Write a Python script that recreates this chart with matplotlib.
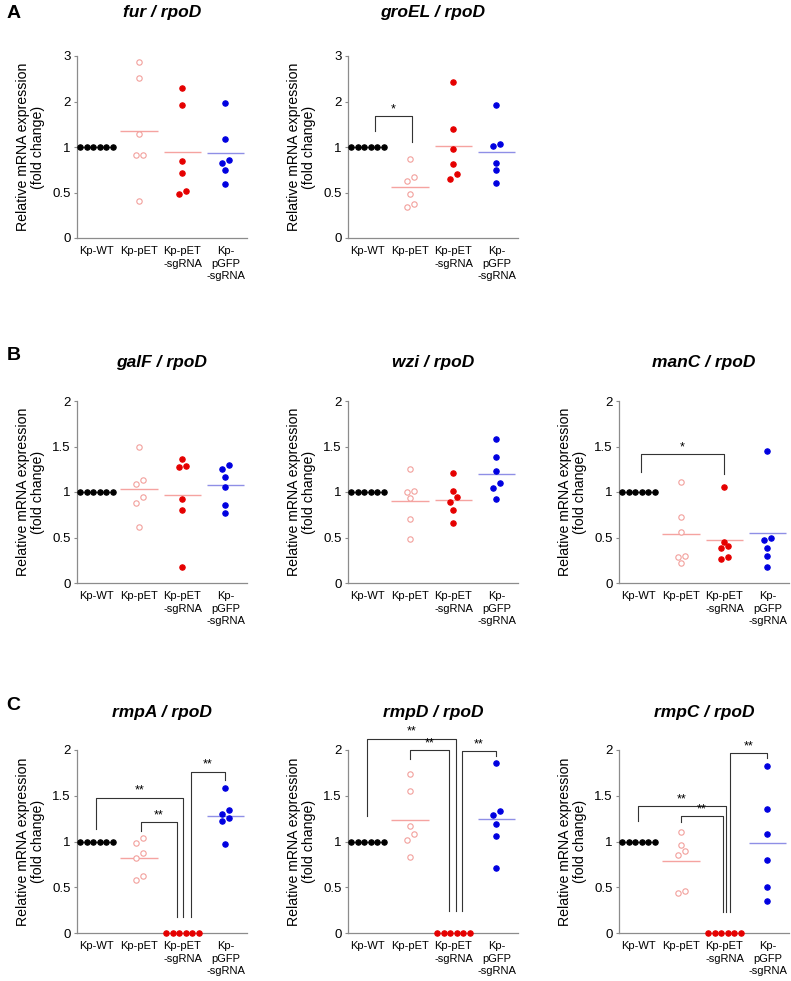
"""Relative mRNA expression dot plots (fold change vs rpoD), panels A-C."""

import matplotlib

matplotlib.use("Agg")
import matplotlib.pyplot as plt
import numpy as np

plt.rcParams["font.family"] = ["Liberation Sans", "DejaVu Sans"]

GROUPS = ["Kp-WT", "Kp-pET", "Kp-pET\n-sgRNA", "Kp-\npGFP\n-sgRNA"]

WT = [1, 1, 1, 1, 1, 1]
ZERO = [0, 0, 0, 0, 0, 0]

# A
fur_pet = [2.87, 2.52, 1.28, 0.91, 0.91, 0.41]
fur_sg = [2.30, 1.92, 0.85, 0.71, 0.52, 0.48]
fur_gfp = [1.96, 1.18, 0.855, 0.825, 0.75, 0.59]
fur_mean = [1, 1.35, 0.94, 0.93]

groel_pet = [0.865, 0.67, 0.625, 0.48, 0.375, 0.345]
groel_sg = [2.43, 1.40, 0.98, 0.815, 0.70, 0.65]
groel_gfp = [1.93, 1.07, 1.02, 0.825, 0.745, 0.60]
groel_mean = [1, 0.556, 1.03, 0.95]

# B
galf_pet = [1.50, 1.13, 1.09, 0.94, 0.88, 0.62]
galf_sg = [1.36, 1.29, 1.27, 0.92, 0.80, 0.18]
galf_gfp = [1.30, 1.25, 1.17, 1.055, 0.86, 0.77]
galf_mean = [1, 1.03, 0.97, 1.08]

wzi_pet = [1.25, 1.015, 1.0, 0.93, 0.70, 0.485]
wzi_sg = [1.21, 1.01, 0.94, 0.89, 0.80, 0.66]
wzi_gfp = [1.58, 1.38, 1.23, 1.095, 1.045, 0.92]
wzi_mean = [1, 0.90, 0.915, 1.20]

manc_pet = [1.11, 0.73, 0.56, 0.295, 0.29, 0.225]
manc_sg = [1.06, 0.45, 0.41, 0.38, 0.285, 0.265]
manc_gfp = [1.45, 0.50, 0.475, 0.38, 0.295, 0.18]
manc_mean = [1, 0.536, 0.478, 0.547]

# C
rmpa_pet = [1.04, 0.98, 0.875, 0.815, 0.62, 0.58]
rmpa_gfp = [1.58, 1.34, 1.305, 1.26, 1.22, 0.975]
rmpa_mean = [1, 0.82, 0, 1.28]

rmpd_pet = [1.74, 1.555, 1.165, 1.08, 1.02, 0.835]
rmpd_gfp = [1.86, 1.33, 1.295, 1.195, 1.06, 0.71]
rmpd_mean = [1, 1.23, 0, 1.247]

rmpc_pet = [1.10, 0.965, 0.90, 0.85, 0.46, 0.44]
rmpc_gfp = [1.82, 1.36, 1.08, 0.80, 0.505, 0.35]
rmpc_mean = [1, 0.785, 0, 0.985]

# 显著性括号: (组i, 组j, 顶部, i腿底, j腿底, 标记, i偏移, j偏移)
groel_sig = [(0, 1, 1.68, 1.35, 1.12, "*", 0.18, 0.03)]
manc_sig = [(0, 2, 1.42, 1.22, 1.20, "*", 0.05, 0.0)]
rmpa_sig = [
    (0, 2, 1.48, 1.135, 0.18, "**", 0.0, 0.02),
    (1, 2, 1.215, 1.115, 0.18, "**", 0.03, -0.12),
    (2, 3, 1.765, 0.18, 1.675, "**", 0.19, 0.0),
]
rmpd_sig = [
    (0, 2, 2.125, 1.28, 0.235, "**", 0.0, 0.05),
    (1, 2, 2.0, 1.90, 0.235, "**", 0.0, -0.1),
    (2, 3, 1.993, 0.235, 1.93, "**", 0.19, 0.0),
]
rmpc_sig = [
    (0, 2, 1.39, 1.22, 0.225, "**", 0.0, 0.03),
    (1, 2, 1.277, 1.215, 0.225, "**", 0.0, -0.04),
    (2, 3, 1.967, 0.225, 1.91, "**", 0.12, 0.0),
]

PANELS = [
    # (行, 列, 基因, 各组数据, 均值, 括号)
    (0, 0, "fur", [WT, fur_pet, fur_sg, fur_gfp], fur_mean, []),
    (0, 1, "groEL", [WT, groel_pet, groel_sg, groel_gfp], groel_mean, groel_sig),
    (1, 0, "galF", [WT, galf_pet, galf_sg, galf_gfp], galf_mean, []),
    (1, 1, "wzi", [WT, wzi_pet, wzi_sg, wzi_gfp], wzi_mean, []),
    (1, 2, "manC", [WT, manc_pet, manc_sg, manc_gfp], manc_mean, manc_sig),
    (2, 0, "rmpA", [WT, rmpa_pet, ZERO, rmpa_gfp], rmpa_mean, rmpa_sig),
    (2, 1, "rmpD", [WT, rmpd_pet, ZERO, rmpd_gfp], rmpd_mean, rmpd_sig),
    (2, 2, "rmpC", [WT, rmpc_pet, ZERO, rmpc_gfp], rmpc_mean, rmpc_sig),
]

DOT_FACE = ["black", "white", "#e50000", "#0000e0"]
DOT_EDGE = ["black", "#f2a09c", "#e50000", "#0000e0"]
LINE_COLOR = ["#555555", "#f5a3a0", "#f5a3a0", "#8f8fe6"]

W, H = 791, 981
COL_LEFT = [77, 348, 619]
ROW_TOP = [56, 401, 750]
ROW_BOTTOM = [238, 583, 933]
AX_W = 170

SPINE = "#8c8c8c"


def broken_forward(v):
    v = np.asarray(v, dtype=float)
    return np.where(v <= 1, 2 * v, v + 1)


def broken_inverse(p):
    p = np.asarray(p, dtype=float)
    return np.where(p <= 2, p / 2, p - 1)


def swarm_offsets(ax, values, step=0.15, min_px=5.5):
    """按显示坐标把过近的点横向排开（类似 Prism 的散点图）。"""
    values = np.asarray(values, dtype=float)
    order = np.argsort(values)
    ypix = ax.transData.transform(np.column_stack([np.zeros(len(values)), values]))[:, 1]
    offsets = np.zeros(len(values))
    clusters = []
    for idx in order:
        if clusters and abs(ypix[idx] - ypix[clusters[-1][0]]) < min_px:
            clusters[-1].append(idx)
        else:
            clusters.append([idx])
    for cluster in clusters:
        n = len(cluster)
        for k, idx in enumerate(cluster):
            offsets[idx] = (k - (n - 1) / 2) * step
    return offsets


fig = plt.figure(figsize=(W / 100, H / 100), dpi=100)

for row, col, gene, groups, means, sigs in PANELS:
    left = COL_LEFT[col] / W
    bottom = 1 - ROW_BOTTOM[row] / H
    height = (ROW_BOTTOM[row] - ROW_TOP[row]) / H
    ax = fig.add_axes([left, bottom, AX_W / W, height])

    if row == 0:
        ax.set_yscale("function", functions=(broken_forward, broken_inverse))
        ax.set_ylim(0, 3)
        ticks = [0, 0.5, 1, 2, 3]
    else:
        ax.set_ylim(0, 2)
        ticks = [0, 0.5, 1, 1.5, 2]
    ax.set_xlim(-0.45, 3.5)
    ax.set_yticks(ticks)
    ax.set_yticklabels([f"{t:g}" for t in ticks], fontsize=9.5)
    ax.set_xticks(range(len(GROUPS)))
    ax.set_xticklabels(GROUPS, fontsize=8, linespacing=1.3, va="top")
    ax.tick_params(axis="x", length=0, pad=6)
    ax.tick_params(axis="y", length=2.5, width=0.8, color=SPINE, pad=2)
    for side in ["top", "right"]:
        ax.spines[side].set_visible(False)
    for side in ["left", "bottom"]:
        ax.spines[side].set_color(SPINE)
        ax.spines[side].set_linewidth(0.9)

    for g, vals in enumerate(groups):
        ax.hlines(means[g], g - 0.44, g + 0.44, color=LINE_COLOR[g], linewidth=1.0, zorder=2)
        offs = swarm_offsets(ax, vals)
        ax.scatter(
            g + offs,
            vals,
            s=15,
            facecolors=DOT_FACE[g],
            edgecolors=DOT_EDGE[g],
            linewidths=0.8,
            zorder=3,
            clip_on=False,
        )

    for i, j, top, yi, yj, mark, dxi, dxj in sigs:
        xi, xj = i + dxi, j + dxj
        ax.plot([xi, xi, xj, xj], [yi, top, top, yj], color="#333333", linewidth=0.8, clip_on=False, zorder=1)
        ax.annotate(
            mark,
            ((xi + xj) / 2, top),
            xytext=(0, 0.5),
            textcoords="offset points",
            ha="center",
            va="bottom",
            fontsize=9,
            annotation_clip=False,
        )

    ax.set_ylabel("Relative mRNA expression\n(fold change)", fontsize=10.2, linespacing=1.1)
    ax.yaxis.set_label_coords(-0.19, 0.5)

    title_y = 1 - (13 if row == 0 else 363 if row == 1 else 712) / H
    fig.text(
        left + AX_W / W / 2,
        title_y,
        f"{gene} / rpoD",
        ha="center",
        va="center",
        fontsize=12.5,
        fontweight="bold",
        fontstyle="italic",
    )

for letter, y in [("A", 13), ("B", 355), ("C", 705)]:
    fig.text(0.008, 1 - y / H, letter, ha="left", va="center", fontsize=14, fontweight="bold")

fig.savefig("out.png", dpi=100)
